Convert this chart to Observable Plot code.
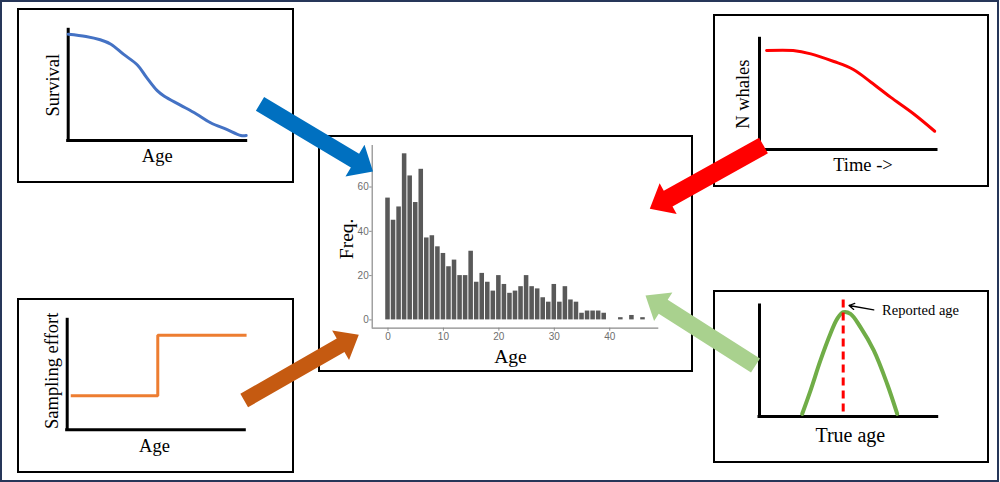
<!DOCTYPE html>
<html><head><meta charset="utf-8">
<script src="https://cdn.jsdelivr.net/npm/d3@7"></script>
<script src="https://cdn.jsdelivr.net/npm/@observablehq/plot@0.6"></script>
<style>
body{margin:0;background:#fff;}
#fig{position:relative;width:1000px;height:482px;background:#fff;overflow:hidden;}
.frame{position:absolute;left:0;top:0;width:999px;height:482px;box-sizing:border-box;border:2px solid #263659;}
.panel{position:absolute;box-sizing:border-box;border:2px solid #000;background:#fff;}
.panel svg{display:block;}
#overlay{position:absolute;left:0;top:0;pointer-events:none;}
</style></head><body>
<div id="fig"><div class="frame"></div></div>
<script>
// ---------- DATA ----------
// Central histogram: age-at-sampling frequencies
const histAge  = [0,1,2,3,4,5,6,7,8,9,10,11,12,13,14,15,16,17,18,19,20,21,22,23,24,25,26,27,28,29,30,31,32,33,34,35,36,37,38,39,42,44,46];
const histFreq = [55,45,51,75,65,53,68,37,38,33,30,24,27,20,20,31,17,21,17,13,20,16,12,13,15,20,15,14,10,8,16,8,15,9,8,3,4,4,4,3,1,2,1];
const histXTicks = [0,10,20,30,40];
const histYTicks = [0,20,40,60];

// Survival vs age (sketch)
const survAge = [0,10,18,24,31,39,44,50,54,63,72,80,89,97,100];
const survVal = [0.96,0.94,0.91,0.87,0.78,0.68,0.57,0.45,0.40,0.32,0.24,0.16,0.10,0.045,0.045];

// N whales vs time (sketch)
const whaleTime = [4,19,29,42,53,63,74,87,99];
const whaleN    = [0.894,0.894,0.864,0.795,0.723,0.608,0.473,0.323,0.165];

// Sampling effort vs age (step)
const effortAge = [2,51,101];
const effortVal = [0.31,0.86,0.86];

// Age error distribution vs true age
const trueAge  = [24.0,28.7,34.3,39.9,43.7,47.1,51.2,56.8,64.3,71.8,77.5];
const trueDens = [0.023,0.234,0.505,0.745,0.880,0.940,0.925,0.805,0.595,0.295,0.023];
const reportedAge = 47.1;

// Labels
const labels = {
  survivalY: "Survival", survivalX: "Age",
  whalesY: "N whales", whalesX: "Time ->",
  effortY: "Sampling effort", effortX: "Age",
  trueX: "True age", reported: "Reported age",
  histY: "Freq.", histX: "Age"
};

// ---------- LAYOUT ----------
const boxes = {
  survival: {left:17, top:8, w:277, h:175, m:{l:48.7, r:46.3, t:19.3, b:41}},
  effort:   {left:17, top:298, w:277, h:175, m:{l:47.7, r:47.7, t:19.3, b:41.7}},
  whales:   {left:713, top:14, w:276, h:173, m:{l:44, r:51, t:22.3, b:36}},
  trueage:  {left:713, top:290, w:276, h:173, m:{l:44, r:50.3, t:13, b:45}},
  hist:     {left:318, top:135, w:375, h:237, m:{l:51.7, r:32.7, t:8, b:42.3}}
};
// Block arrows (diagram pixel space): tail centre, tip, shaft width, head width
const arrowTailX = [259.5, 763, 243.7, 755];
const arrowTailY = [103.3, 145, 400, 365];
const arrowTipX  = [372.5, 649.3, 358.3, 645];
const arrowTipY  = [171, 208.3, 334.3, 295];
const arrowShaft = [16, 18, 15.5, 16.7];
const arrowHeadW = [37, 35, 34, 34];
const arrowHeadL = [21, 21, 21, 21];
const arrowColor = ["#0070c0", "#ff0000", "#c55a11", "#a9d18e"];

const SERIF = "Liberation Serif, Times New Roman, serif";
const fig = document.getElementById("fig");

function panel(box, opts) {
  const div = document.createElement("div");
  div.className = "panel";
  Object.assign(div.style, {left: box.left+"px", top: box.top+"px", width: box.w+"px", height: box.h+"px"});
  const svg = Plot.plot({
    width: box.w - 4, height: box.h - 4,
    marginLeft: box.m.l, marginRight: box.m.r, marginTop: box.m.t, marginBottom: box.m.b,
    style: {background: "white", fontFamily: SERIF, overflow: "visible"},
    ...opts
  });
  div.append(svg);
  fig.append(div);
}
const lab = (t, o) => Plot.text([t], {text: d => d, fontFamily: SERIF, fontSize: 18.5, fill: "black", textAnchor: "middle", lineAnchor: "middle", ...o});
const axesL = () => [
  Plot.ruleX([0], {stroke: "black", strokeWidth: 3, strokeLinecap: "square"}),
  Plot.ruleY([0], {stroke: "black", strokeWidth: 3, strokeLinecap: "square"})
];
const sketchScales = {x: {domain: [0, 100], axis: null}, y: {domain: [0, 1], axis: null}};

// Survival panel
panel(boxes.survival, {...sketchScales, marks: [
  ...axesL(),
  Plot.line(survVal, {x: survAge, y: survVal, stroke: "#4472c4", strokeWidth: 3, curve: "catmull-rom"}),
  lab(labels.survivalX, {frameAnchor: "bottom", dy: 16}),
  lab(labels.survivalY, {frameAnchor: "left", dx: -15, rotate: -90})
]});

// Sampling effort panel
panel(boxes.effort, {...sketchScales, marks: [
  ...axesL(),
  Plot.line(effortVal, {x: effortAge, y: effortVal, stroke: "#ed7d31", strokeWidth: 3, curve: "step-after", strokeLinecap: "butt", strokeLinejoin: "miter"}),
  lab(labels.effortX, {frameAnchor: "bottom", dy: 16.7, dx: -1.5}),
  lab(labels.effortY, {frameAnchor: "left", dx: -15, dy: -4, rotate: -90})
]});

// N whales panel
panel(boxes.whales, {...sketchScales, marks: [
  ...axesL(),
  Plot.line(whaleN, {x: whaleTime, y: whaleN, stroke: "#ff0000", strokeWidth: 3, curve: "catmull-rom"}),
  lab(labels.whalesX, {frameAnchor: "bottom", dy: 16, dx: 15}),
  lab(labels.whalesY, {frameAnchor: "left", dx: -16, rotate: -90})
]});

// True age panel
panel(boxes.trueage, {...sketchScales, marks: [
  ...axesL(),
  Plot.line(trueDens, {x: trueAge, y: trueDens, stroke: "#70ad47", strokeWidth: 4, curve: "catmull-rom"}),
  Plot.ruleX([reportedAge], {y1: 0.04, y2: 1.06, stroke: "#ff0000", strokeWidth: 3, strokeDasharray: "8,5"}),
  Plot.arrow([0], {x1: 64.3, y1: 0.96, x2: 50.4, y2: 1.0, stroke: "black", strokeWidth: 1.3, headLength: 7}),
  Plot.text([labels.reported], {x: 69, y: 0.96, text: d => d, textAnchor: "start", fontFamily: SERIF, fontSize: 14.5, fill: "black"}),
  lab(labels.trueX, {frameAnchor: "bottom", dy: 19, dx: 2, fontSize: 20})
]});

// Central histogram
const xDom = [-2.85, 48.85], yDom = [-3.75, 78.75];
panel(boxes.hist, {
  style: {background: "white", fontFamily: "Liberation Sans, Arial, sans-serif", fontSize: "10px", color: "#6e6e6e", overflow: "visible"},
  x: {domain: xDom, label: null},
  y: {domain: yDom, label: null},
  marks: [
    Plot.rectY(histFreq, {x1: histAge.map(a => a - 0.5), x2: histAge.map(a => a + 0.5), y1: 0, y2: histFreq, fill: "#595959", insetLeft: 0.5, insetRight: 0.5}),
    Plot.ruleX([xDom[0]], {stroke: "#8a8a8a", strokeWidth: 1.2}),
    Plot.ruleY([yDom[0]], {stroke: "#8a8a8a", strokeWidth: 1.2}),
    Plot.axisX({ticks: histXTicks, tickSize: 3, tickPadding: 2, label: null, stroke: "#8a8a8a", fill: "#6e6e6e", fontSize: 10}),
    Plot.axisY({ticks: histYTicks, tickSize: 2.5, tickPadding: 1, label: null, stroke: "#8a8a8a", fill: "#6e6e6e", fontSize: 10}),
    lab(labels.histX, {frameAnchor: "bottom", dy: 29, dx: -5, fontSize: 19.5}),
    lab(labels.histY, {frameAnchor: "left", dx: -25, dy: 2, rotate: -90, fontSize: 19.5})
  ]
});

// Block arrows overlay
function arrowPoly(i) {
  const tx = arrowTailX[i], ty = arrowTailY[i], px = arrowTipX[i], py = arrowTipY[i];
  const len = Math.hypot(px - tx, py - ty), ux = (px - tx) / len, uy = (py - ty) / len;
  const nx = -uy, ny = ux;
  const bx = px - ux * arrowHeadL[i], by = py - uy * arrowHeadL[i];
  const s = arrowShaft[i] / 2, h = arrowHeadW[i] / 2;
  return [
    [tx + nx*s, ty + ny*s], [bx + nx*s, by + ny*s], [bx + nx*h, by + ny*h], [px, py],
    [bx - nx*h, by - ny*h], [bx - nx*s, by - ny*s], [tx - nx*s, ty - ny*s], [tx + nx*s, ty + ny*s]
  ];
}
const overlay = Plot.plot({
  width: 1000, height: 482, margin: 0,
  x: {domain: [0, 1000], axis: null},
  y: {domain: [0, 482], reverse: true, axis: null},
  style: {background: "transparent"},
  marks: arrowColor.map((c, i) =>
    Plot.line(arrowPoly(i), {x: d => d[0], y: d => d[1], fill: c, stroke: "none", curve: "linear"}))
});
overlay.id = "overlay";
fig.append(overlay);
</script>
</body></html>
